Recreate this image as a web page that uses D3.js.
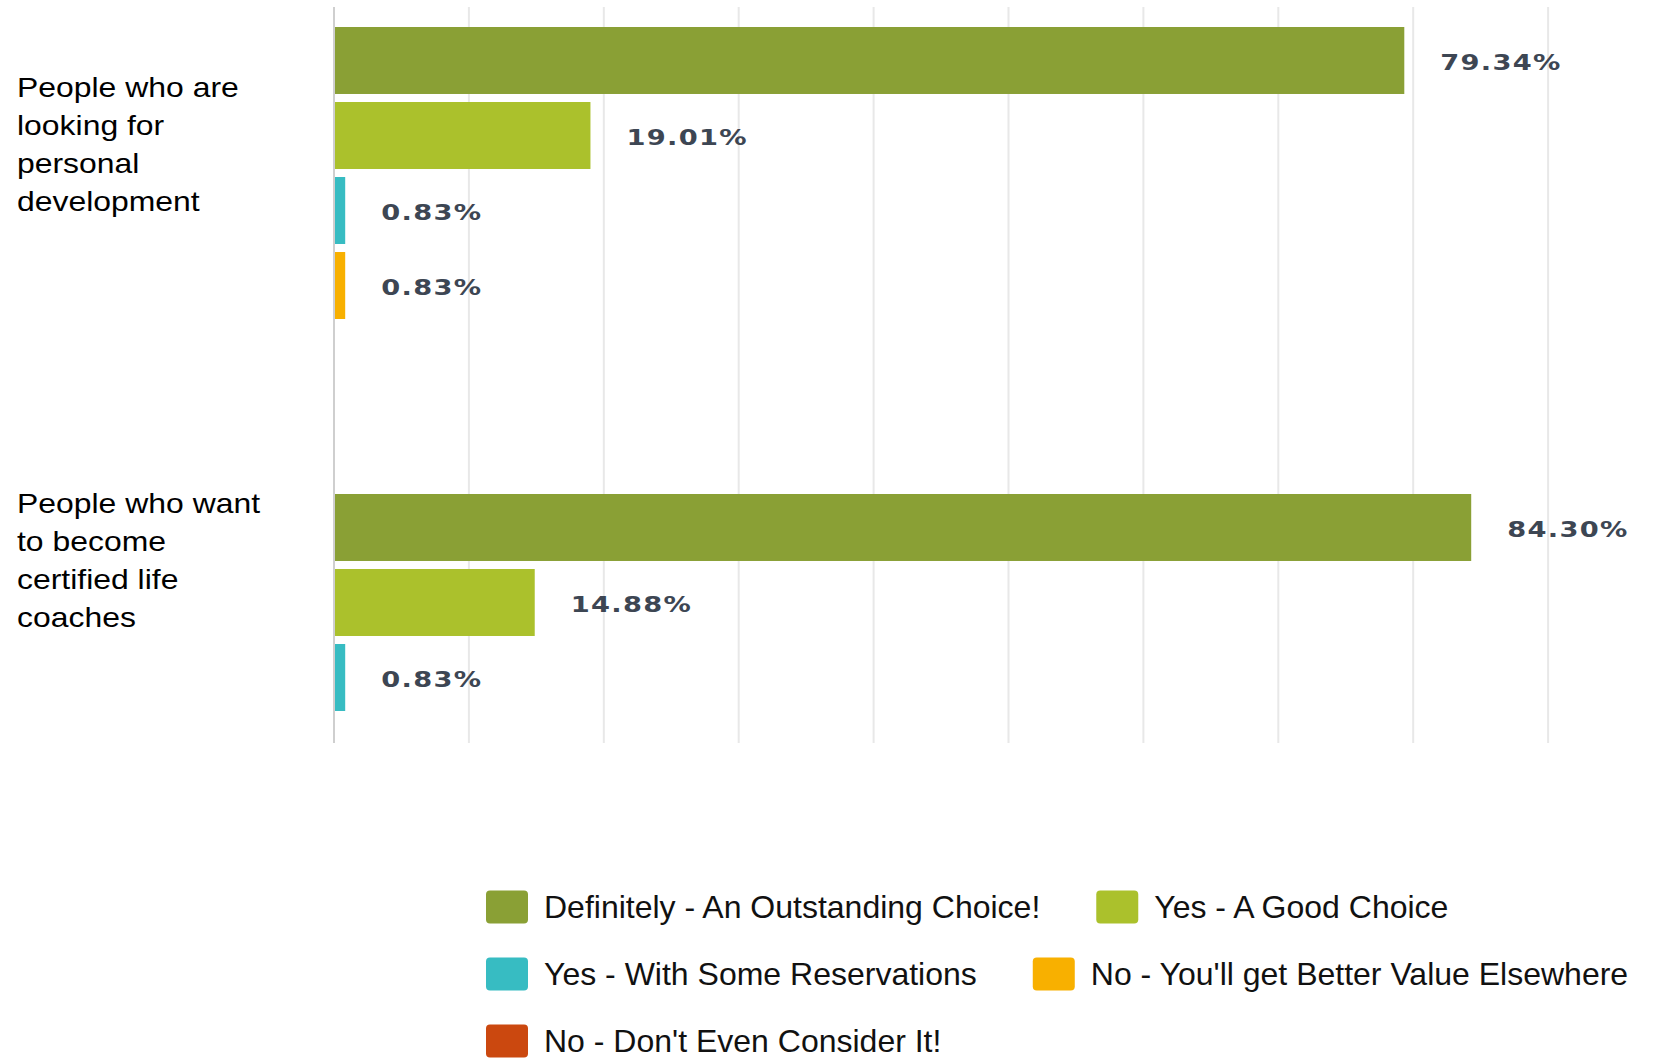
<!DOCTYPE html>
<html>
<head>
<meta charset="utf-8">
<script src="https://cdn.jsdelivr.net/npm/d3@7"></script>
<style>
  html, body { margin: 0; padding: 0; background: #ffffff; }
  svg { display: block; }
</style>
</head>
<body>
<svg id="chart" width="1679" height="1058"></svg>
<script>
// ---------------- DATA ----------------
const categories = [
  "People who are looking for personal development",
  "People who want to become certified life coaches"
];
const categoryLines = [
  ["People who are", "looking for", "personal", "development"],
  ["People who want", "to become", "certified life", "coaches"]
];
const series = [
  "Definitely - An Outstanding Choice!",
  "Yes - A Good Choice",
  "Yes - With Some Reservations",
  "No - You'll get Better Value Elsewhere",
  "No - Don't Even Consider It!"
];
const valuesPersonalDevelopment = [79.34, 19.01, 0.83, 0.83, 0];
const valuesLifeCoaches = [84.30, 14.88, 0.83, 0, 0];
const gridTicks = [10, 20, 30, 40, 50, 60, 70, 80, 90];

// ---------------- STYLE / LAYOUT ----------------
const colors = ["#8aa035", "#abc12c", "#37bcc2", "#f8b000", "#cb480f"];
const W = 1679, H = 1058;
const plotTop = 7, plotBottom = 743;
const bandSize = 467;
const labelFirstBaseline = [90, 39]; // offset from the category band top

const svg = d3.select("#chart");
svg.append("rect").attr("width", W).attr("height", H).attr("fill", "#ffffff");

const x = d3.scaleLinear().domain([0, 100]).range([334, 1683]);
const y0 = d3.scaleBand().domain(categories).range([plotTop, plotTop + bandSize * categories.length]);
const y1 = d3.scaleBand().domain(series).range([20, 387]).paddingInner(0.107);
const color = d3.scaleOrdinal().domain(series).range(colors);

const data = categories.map((c, i) => ({
  category: c,
  lines: categoryLines[i],
  values: series.map((s, j) => ({ series: s, value: [valuesPersonalDevelopment, valuesLifeCoaches][i][j] }))
}));

// gridlines
svg.append("g")
  .selectAll("line")
  .data(gridTicks)
  .join("line")
  .attr("x1", d => x(d)).attr("x2", d => x(d))
  .attr("y1", plotTop).attr("y2", plotBottom)
  .attr("stroke", "#e8e8e8").attr("stroke-width", 2);

// clip for plot area
svg.append("clipPath").attr("id", "plotclip")
  .append("rect").attr("x", 0).attr("y", plotTop).attr("width", W).attr("height", plotBottom - plotTop);

const plot = svg.append("g").attr("clip-path", "url(#plotclip)");

const groups = plot.selectAll("g.cat")
  .data(data)
  .join("g")
  .attr("class", "cat")
  .attr("transform", d => `translate(0,${y0(d.category)})`);

const nonZero = d => d.values.filter(v => v.value > 0);

groups.selectAll("rect")
  .data(nonZero)
  .join("rect")
  .attr("x", x(0))
  .attr("y", d => y1(d.series))
  .attr("width", d => Math.max(9, x(d.value) - x(0)))
  .attr("height", y1.bandwidth())
  .attr("fill", d => color(d.series));

groups.selectAll("text.val")
  .data(nonZero)
  .join("text")
  .attr("class", "val")
  .attr("transform", d => `translate(${x(d.value) + 36},${y1(d.series) + y1.bandwidth() / 2 + 2}) scale(1.3,1)`)
  .attr("dominant-baseline", "central")
  .attr("font-family", "DejaVu Sans, sans-serif")
  .attr("font-weight", "bold")
  .attr("font-size", 21)
  .attr("letter-spacing", 1)
  .attr("fill", "#3d4653")
  .text(d => d.value.toFixed(2) + "%");

// axis line
svg.append("line")
  .attr("x1", x(0)).attr("x2", x(0))
  .attr("y1", plotTop).attr("y2", plotBottom)
  .attr("stroke", "#cfcfcf").attr("stroke-width", 2);

// category labels
data.forEach((d, i) => {
  const top = y0(d.category) + labelFirstBaseline[i];
  svg.append("g")
    .selectAll("text")
    .data(d.lines)
    .join("text")
    .attr("transform", (t, k) => `translate(17,${top + k * 38}) scale(1.12,1)`)
    .attr("font-family", "Liberation Sans, Arial, sans-serif")
    .attr("font-size", 28.5)
    .attr("fill", "#000000")
    .text(t => t);
});

// legend (flow layout)
const legend = svg.append("g");
const lgX0 = 486, lgY0 = 907, lgRow = 67, lgMaxX = 1665;
const sqW = 42, sqH = 33, textGap = 58, itemGap = 56;
let cx = lgX0, cy = lgY0;
series.forEach(s => {
  const g = legend.append("g");
  g.append("rect").attr("x", 0).attr("y", -sqH / 2).attr("width", sqW).attr("height", sqH)
    .attr("rx", 4).attr("fill", color(s));
  const t = g.append("text").attr("x", textGap).attr("y", 0)
    .attr("dominant-baseline", "central")
    .attr("font-family", "Liberation Sans, Arial, sans-serif")
    .attr("font-size", 32)
    .attr("fill", "#111111")
    .text(s);
  const w = textGap + t.node().getComputedTextLength();
  if (cx !== lgX0 && cx + w > lgMaxX) { cx = lgX0; cy += lgRow; }
  g.attr("transform", `translate(${cx},${cy})`);
  cx += w + itemGap;
});
</script>
</body>
</html>
